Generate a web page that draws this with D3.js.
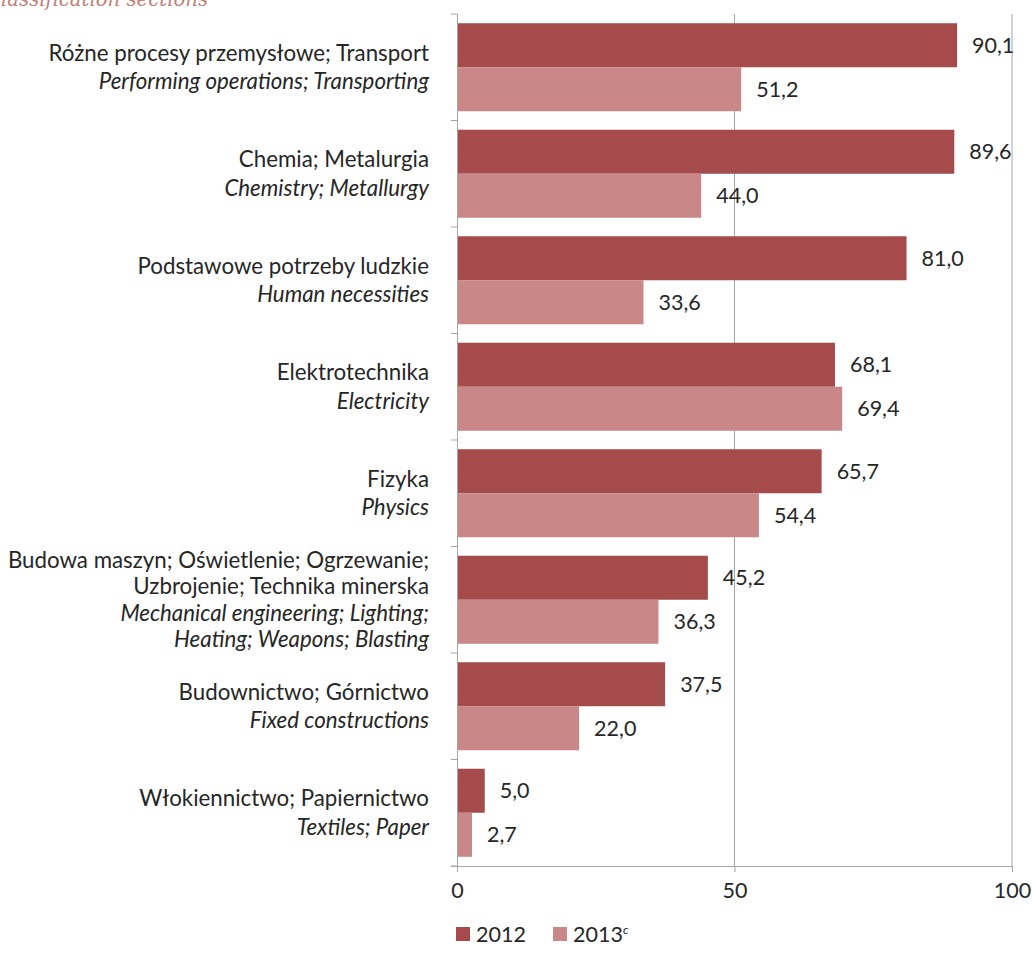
<!DOCTYPE html>
<html><head><meta charset="utf-8">
<script src="https://cdn.jsdelivr.net/npm/d3@7"></script>
<style>
body{margin:0;background:#fff;}
svg{display:block;}
text{font-family:Lato, "Open Sans", sans-serif;fill:#262626;}
</style></head>
<body><svg id="c" width="1032" height="971"></svg>
<script>
const categoriesPL = [
  ["Różne procesy przemysłowe; Transport"],
  ["Chemia; Metalurgia"],
  ["Podstawowe potrzeby ludzkie"],
  ["Elektrotechnika"],
  ["Fizyka"],
  ["Budowa maszyn; Oświetlenie; Ogrzewanie;", "Uzbrojenie; Technika minerska"],
  ["Budownictwo; Górnictwo"],
  ["Włokiennictwo; Papiernictwo"]
];
const categoriesEN = [
  ["Performing operations; Transporting"],
  ["Chemistry; Metallurgy"],
  ["Human necessities"],
  ["Electricity"],
  ["Physics"],
  ["Mechanical engineering; Lighting;", "Heating; Weapons; Blasting"],
  ["Fixed constructions"],
  ["Textiles; Paper"]
];
const values2012 = [90.1, 89.6, 81.0, 68.1, 65.7, 45.2, 37.5, 5.0];
const values2013 = [51.2, 44.0, 33.6, 69.4, 54.4, 36.3, 22.0, 2.7];
const seriesNames = ["2012", "2013"];
const xTicks = [0, 50, 100];
const colors = ["#a54b4b", "#c98788"];

const svg = d3.select("#c");
const x0 = 457, x1 = 1012, yTop = 14, yBot = 866;
const FS = "21.5px";
const FSL = "22.3px";
const x = d3.scaleLinear().domain([0, 100]).range([x0, x1]);
const idx = d3.range(categoriesPL.length);
const y = d3.scaleBand().domain(idx).range([yTop, yBot]).paddingInner(0).paddingOuter(0);
const inner = d3.scaleBand().domain([0, 1]).range([0, y.bandwidth()]).paddingInner(0).paddingOuter(0.21);

// title clipped at top
svg.append("text").attr("x", -14).attr("y", 6)
  .style("font-family", "'DejaVu Serif', serif").style("font-style", "italic")
  .style("font-size", "19.7px").style("fill", "#c0807a")
  .text("Classification sections");

// gridlines
svg.append("g").selectAll("line").data(xTicks.filter(d => d > 0)).join("line")
  .attr("x1", d => x(d)).attr("x2", d => x(d)).attr("y1", yTop).attr("y2", yBot)
  .attr("stroke", "#a6a6a6").attr("stroke-width", 1);

// bars
const g = svg.append("g");
idx.forEach(i => {
  [values2012[i], values2013[i]].forEach((v, s) => {
    const yy = y(i) + inner(s);
    g.append("rect").attr("x", x(0)).attr("y", yy)
      .attr("width", x(v) - x(0)).attr("height", inner.bandwidth())
      .attr("fill", colors[s]);
    g.append("text").attr("x", x(v) + 15).attr("y", yy + inner.bandwidth() / 2)
      .attr("dy", "0.35em").style("font-size", FS)
      .text(v.toFixed(1).replace(".", ","));
  });
});

// bottom axis
const xAxis = d3.axisBottom(x).tickValues(xTicks).tickSize(6).tickPadding(11).tickFormat(d3.format("d"));
const ax = svg.append("g").attr("transform", `translate(0,${yBot})`).call(xAxis);
ax.select(".domain").attr("stroke", "#a6a6a6").attr("d", `M${x0-6},0.5H${x1}`);
ax.selectAll(".tick line").attr("stroke", "#a6a6a6");
ax.selectAll(".tick text").style("font-size", FS).style("font-family", "Lato, sans-serif").attr("fill", "#262626");

// left axis line and ticks
const la = svg.append("g");
la.append("line").attr("x1", x0 + 0.5).attr("x2", x0 + 0.5).attr("y1", yTop).attr("y2", yBot).attr("stroke", "#a6a6a6");
la.selectAll("line.t").data(d3.range(categoriesPL.length + 1)).join("line").attr("class", "t")
  .attr("x1", x0 - 6).attr("x2", x0).attr("y1", d => yTop + d * y.step()).attr("y2", d => yTop + d * y.step())
  .attr("stroke", "#a6a6a6");

// category labels
idx.forEach(i => {
  const lines = categoriesPL[i].map(t => ({t, it: false})).concat(categoriesEN[i].map(t => ({t, it: true})));
  const lh = lines.length > 2 ? 26.5 : 28.5;
  const cy = y(i) + y.bandwidth() / 2;
  const start = cy - (lines.length - 1) * lh / 2;
  lines.forEach((l, k) => {
    svg.append("text").attr("x", 429).attr("y", start + k * lh).attr("dy", "0.35em")
      .attr("text-anchor", "end").style("font-size", FSL)
      .style("font-style", l.it ? "italic" : "normal").text(l.t);
  });
});

// legend
const leg = svg.append("g").attr("transform", "translate(456,927)");
const lx = [0, 97];
seriesNames.forEach((n, s) => {
  leg.append("rect").attr("x", lx[s]).attr("y", 0).attr("width", 14).attr("height", 14).attr("fill", colors[s]);
  const t = leg.append("text").attr("x", lx[s] + 20).attr("y", 7).attr("dy", "0.35em").style("font-size", FS).text(n);
  if (s === 1) t.append("tspan").attr("dy", "-0.6em").style("font-size", "12px").style("font-style", "italic").text("c");
});
</script></body></html>
